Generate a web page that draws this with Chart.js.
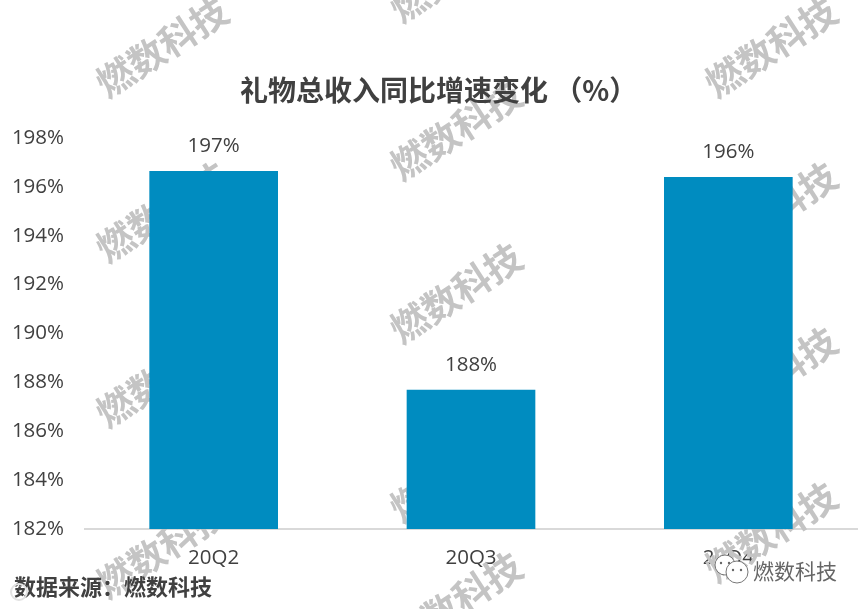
<!DOCTYPE html>
<html>
<head>
<meta charset="utf-8">
<script src="https://cdn.jsdelivr.net/npm/chart.js@4"></script>
<style>
  html, body { margin: 0; padding: 0; background: #fff; }
  canvas { display: block; }
</style>
</head>
<body>
<canvas id="giftChart" width="864" height="609"></canvas>
<script>
const categories = ["20Q2", "20Q3", "20Q4"];
const growthValues = [196.65, 187.7, 196.4];
const barLabels = ["197%", "188%", "196%"];
const tickValues = [182, 184, 186, 188, 190, 192, 194, 196, 198];
const chartTitle = "礼物总收入同比增速变化 （%）";
const sourceText = "数据来源：燃数科技";
const watermarkText = "燃数科技";
const watermarkCenters = [
  [162, 47], [771, 47], [456, 130], [456, 293], [162, 212], [771, 212],
  [162, 377], [771, 377], [456, 472], [162, 548], [771, 532], [456, 602], [456, -28]
];

const cjkFont = '"Noto Sans CJK SC", sans-serif';
const latinFont = '"Open Sans", "Noto Sans", sans-serif';
const textColor = "#404040";

// watermark goes behind the bars, everything else on top
const decorations = {
  id: "decorations",
  beforeDatasetsDraw(chart) {
    const ctx = chart.ctx;
    ctx.save();
    ctx.font = 'bold 37px ' + cjkFont;
    ctx.fillStyle = "#c4c4c4";
    ctx.textAlign = "center";
    ctx.textBaseline = "middle";
    watermarkCenters.forEach(([x, y]) => {
      ctx.save();
      ctx.translate(x, y);
      ctx.rotate(-33 * Math.PI / 180);
      ctx.fillText(watermarkText, 0, 0);
      ctx.restore();
    });
    ctx.restore();
  },
  afterDatasetsDraw(chart) {
    const ctx = chart.ctx;
    const bars = chart.getDatasetMeta(0).data;
    ctx.save();
    ctx.fillStyle = textColor;
    ctx.textAlign = "center";
    ctx.textBaseline = "middle";
    ctx.font = '20.5px ' + latinFont;
    bars.forEach((bar, i) => ctx.fillText(barLabels[i], bar.x, bar.y - 25));

    // title sits right of the plot centre in the original, so place it by hand
    ctx.textAlign = "left";
    ctx.font = 'bold 28px ' + cjkFont;
    ctx.fillText(chartTitle, 240, 90);

    ctx.font = 'bold 22px ' + cjkFont;
    ctx.fillText(sourceText, 14, 587);

    // faint stamp under the source line
    ctx.strokeStyle = "#e2e2e2";
    ctx.lineWidth = 2;
    ctx.beginPath();
    ctx.arc(19, 592, 8, 0, Math.PI * 2);
    ctx.stroke();

    // wechat logo and account name, bottom right
    ctx.strokeStyle = "#777";
    ctx.fillStyle = "#fff";
    ctx.lineWidth = 1;
    [[725, 565, 10], [737, 572, 11]].forEach(([x, y, r]) => {
      ctx.beginPath();
      ctx.arc(x, y, r, 0, Math.PI * 2);
      ctx.fill();
      ctx.stroke();
    });
    ctx.fillStyle = "#666";
    [[721, 563], [729, 563], [733, 570], [741, 570]].forEach(([x, y]) => {
      ctx.beginPath();
      ctx.arc(x, y, 1.2, 0, Math.PI * 2);
      ctx.fill();
    });
    ctx.font = '21px ' + cjkFont;
    ctx.fillText(watermarkText, 753, 571);
    ctx.restore();
  }
};

new Chart(document.getElementById("giftChart").getContext("2d"), {
  type: "bar",
  data: {
    labels: categories,
    datasets: [{
      data: growthValues,
      backgroundColor: "#008cc0",
      barPercentage: 1,
      categoryPercentage: 0.5
    }]
  },
  options: {
    responsive: false,
    animation: false,
    layout: { padding: { left: 0, right: 7, top: 138, bottom: 31 } },
    plugins: {
      legend: { display: false },
      tooltip: { enabled: false },
      title: { display: false }
    },
    scales: {
      x: {
        grid: { display: false, drawTicks: false },
        border: { color: "#d9d9d9", width: 2 },
        ticks: { color: textColor, font: { family: latinFont, size: 20.5 }, padding: 17 },
        afterFit: (scale) => { scale.height = 49; }
      },
      y: {
        min: 182,
        max: 198,
        afterBuildTicks: (scale) => { scale.ticks = tickValues.map((value) => ({ value })); },
        grid: { display: false, drawTicks: false },
        border: { display: false },
        ticks: {
          color: textColor,
          font: { family: latinFont, size: 20.5 },
          padding: 21,
          callback: (value) => value + "%"
        },
        afterFit: (scale) => { scale.width = 85; }
      }
    }
  },
  plugins: [decorations]
});
</script>
</body>
</html>
